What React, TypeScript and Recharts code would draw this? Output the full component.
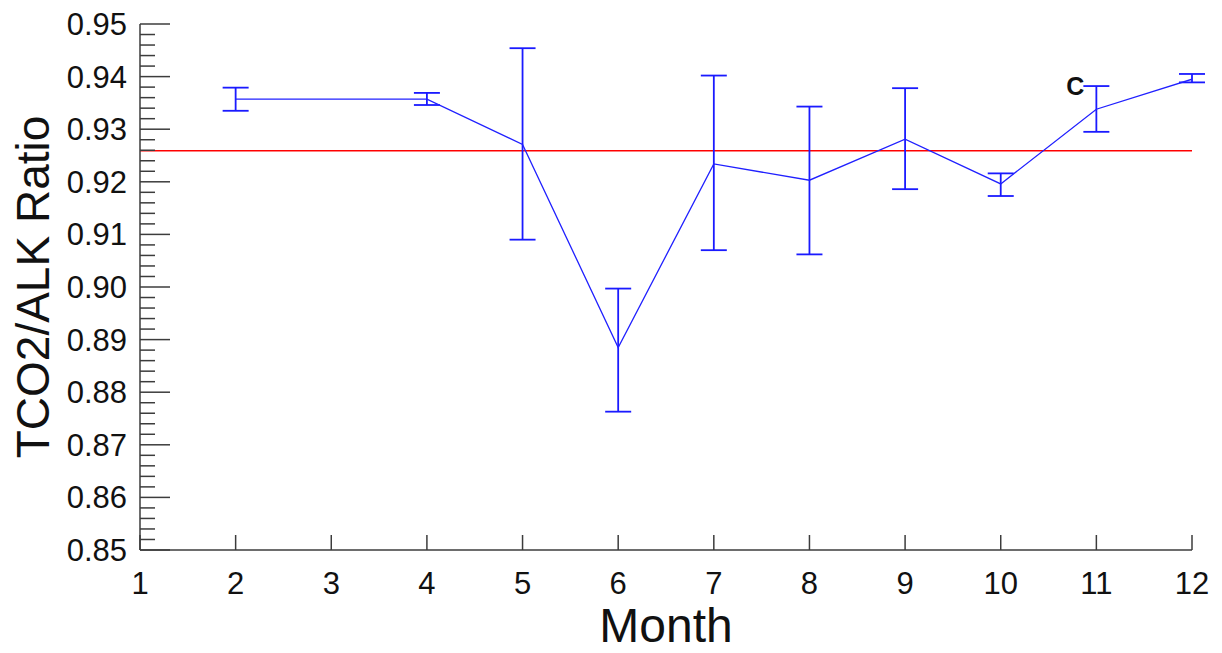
import { ComposedChart, Line, ErrorBar, XAxis, YAxis, ReferenceLine, ReferenceDot, Label } from "recharts";

const months = [2, 4, 5, 6, 7, 8, 9, 10, 11, 12];
const ratioMean = [0.9357, 0.9357, 0.9271, 0.8885, 0.9234, 0.9203, 0.9281, 0.9196, 0.9338, 0.9395];
const ratioUpper = [0.9379, 0.9369, 0.9454, 0.8997, 0.9402, 0.9343, 0.9378, 0.9216, 0.9382, 0.9405];
const ratioLower = [0.9335, 0.9346, 0.909, 0.8763, 0.907, 0.9062, 0.9186, 0.9173, 0.9295, 0.9389];
const annualMean = 0.9259;

const monthTicks = [1, 2, 3, 4, 5, 6, 7, 8, 9, 10, 11, 12];
const ratioTicks = Array.from({ length: 51 }, (_, i) => +(0.85 + i * 0.002).toFixed(3));

const data = months.map((m, i) => ({
    month: m,
    ratio: ratioMean[i],
    err: [ratioMean[i] - ratioLower[i], ratioUpper[i] - ratioMean[i]],
}));

const FONT = "'Liberation Sans', Arial, sans-serif";
const AXIS = "#3c3c3c";

const isMajor = (v: number) => Math.abs(Math.round(v * 100) - v * 100) < 1e-6;

// tick marks point into the plot; labels only on the bottom/left
function BottomTick(p: any) {
    return (
        <g>
            <line x1={p.x} y1={p.y} x2={p.x} y2={p.y - 15} stroke={AXIS} strokeWidth={1.5} />
            <text x={p.x} y={p.y + 44} textAnchor="middle" fontSize={31} fontFamily={FONT} fill="#111">
                {p.payload.value}
            </text>
        </g>
    );
}

function TopTick(p: any) {
    return <line x1={p.x} y1={p.y} x2={p.x} y2={p.y + 15} stroke={AXIS} strokeWidth={1.5} />;
}

function LeftTick(p: any) {
    const major = isMajor(p.payload.value);
    return (
        <g>
            <line x1={p.x} y1={p.y} x2={p.x + (major ? 30 : 15)} y2={p.y} stroke={AXIS} strokeWidth={1.5} />
            {major && (
                <text x={p.x - 13} y={p.y + 11} textAnchor="end" fontSize={31} fontFamily={FONT} fill="#111">
                    {p.payload.value.toFixed(2)}
                </text>
            )}
        </g>
    );
}

function RightTick(p: any) {
    const major = isMajor(p.payload.value);
    return <line x1={p.x} y1={p.y} x2={p.x - (major ? 30 : 15)} y2={p.y} stroke={AXIS} strokeWidth={1.5} />;
}

export default function App() {
    return (
        <div style={{ position: "absolute", left: 0, top: 0, background: "#fff" }}>
            <ComposedChart width={1222} height={653} data={data} margin={{ top: 24, right: 30, bottom: 0, left: 0 }}>
                <XAxis xAxisId="bottom" dataKey="month" type="number" domain={[1, 12]} ticks={monthTicks}
                       allowDataOverflow interval={0} height={103} tickSize={0} tickMargin={0}
                       tick={<BottomTick />} tickLine={false} stroke={AXIS} strokeWidth={1.5}>
                    <Label content={() => (
                        <text x={666} y={642} textAnchor="middle" fontSize={48} fontFamily={FONT} fill="#111">Month</text>
                    )} />
                </XAxis>
                <XAxis xAxisId="top" orientation="top" dataKey="month" type="number" domain={[1, 12]} ticks={monthTicks}
                       allowDataOverflow interval={0} height={0} tickSize={0} tickMargin={0}
                       tick={<TopTick />} tickLine={false} stroke={AXIS} strokeWidth={1.5} />
                <YAxis yAxisId="left" type="number" domain={[0.85, 0.95]} ticks={ratioTicks} allowDataOverflow
                       interval={0} width={140} tickSize={0} tickMargin={0}
                       tick={<LeftTick />} tickLine={false} stroke={AXIS} strokeWidth={1.5}>
                    <Label content={() => (
                        <text transform="translate(49 287) rotate(-90)" textAnchor="middle" fontSize={46}
                              fontFamily={FONT} fill="#111">TCO2/ALK Ratio</text>
                    )} />
                </YAxis>
                <YAxis yAxisId="right" orientation="right" type="number" domain={[0.85, 0.95]} ticks={ratioTicks}
                       allowDataOverflow interval={0} width={0} tickSize={0} tickMargin={0}
                       tick={<RightTick />} tickLine={false} stroke={AXIS} strokeWidth={1.5} />

                <ReferenceLine xAxisId="bottom" yAxisId="left" y={annualMean} stroke="#ff0000" strokeWidth={1.5} />

                <Line xAxisId="bottom" yAxisId="left" dataKey="ratio" type="linear" stroke="#2020ff" strokeWidth={1.3}
                      dot={false} activeDot={false} isAnimationActive={false}>
                    <ErrorBar dataKey="err" direction="y" width={13} stroke="#1a1aff" strokeWidth={1.8}
                              isAnimationActive={false} />
                </Line>

                <ReferenceDot xAxisId="bottom" yAxisId="left" x={10.78} y={0.9382} r={0} fill="none" stroke="none"
                              label={{ value: "C", position: "center", fontSize: 25, fontWeight: "bold",
                                       fontFamily: FONT, fill: "#111" }} />
            </ComposedChart>
        </div>
    );
}
